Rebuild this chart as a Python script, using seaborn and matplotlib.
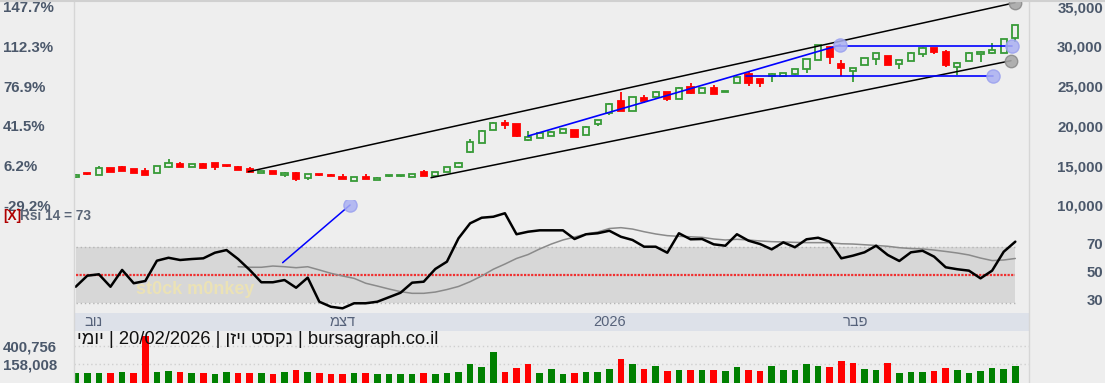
import matplotlib
matplotlib.use('Agg')
import matplotlib.pyplot as plt
import seaborn as sns
import numpy as np
from matplotlib.transforms import ScaledTranslation
from matplotlib.lines import Line2D

sns.set_style('white')
plt.rcParams['font.family'] = ['Liberation Sans', 'DejaVu Sans']

# ---------------- data ----------------
opens = [13500, 13900, 13810, 14650, 14860, 14570, 14310, 14030, 14780, 15230,
         14780, 15230, 15280, 14990, 14780, 14570, 14030, 14280, 13810, 14100,
         13400, 13830, 13850, 13600, 13060, 13600, 13180, 13660, 13700, 13600,
         14230, 13690, 14230, 14780, 16670, 17880, 19480, 20400, 20230, 18180,
         18500, 18720, 19060, 19480, 18850, 20190, 21650, 23170, 21870, 23470,
         23670, 24220, 23380, 24850, 24170, 24730, 24270, 25430, 26490, 25900,
         26310, 26310, 26490, 27120, 28290, 29960, 27750, 26900, 27660, 28380,
         28790, 27790, 28160, 29040, 29760, 29330, 27450, 28200, 29040, 29130,
         29210, 31020]
highs = [13900, 13950, 14940, 14700, 14950, 14620, 14690, 15000, 15790, 15450,
         15230, 15260, 15300, 15100, 14950, 14880, 14350, 14300, 14130, 14190,
         13960, 13950, 13880, 13900, 13620, 13940, 13500, 13800, 13830, 13920,
         14440, 14250, 14790, 15400, 18310, 19420, 20520, 20740, 20260, 19390,
         19090, 19290, 19600, 19500, 19920, 20770, 22900, 24300, 23600, 23840,
         24400, 24250, 24830, 25360, 24760, 25140, 24400, 26220, 26820, 25930,
         26620, 26650, 27150, 28470, 30210, 30000, 28290, 27300, 28530, 29160,
         28820, 28320, 29240, 29870, 29790, 29500, 28080, 29240, 29360, 30390,
         30930, 32720]
lows = [13400, 13830, 13780, 14200, 14330, 14080, 13800, 14000, 14750, 14840,
        14760, 14700, 14440, 14850, 14420, 14130, 14000, 13920, 13560, 13090,
        13180, 13700, 13670, 13250, 13040, 13250, 13160, 13580, 13620, 13580,
        13700, 13670, 14200, 14750, 16640, 17850, 19450, 19560, 18540, 18090,
        18480, 18700, 19040, 18610, 18830, 19980, 21400, 21870, 21840, 22910,
        23640, 23170, 23350, 24070, 24140, 23980, 24200, 25400, 25060, 24930,
        25560, 26280, 26460, 26690, 28260, 27790, 26270, 25560, 27630, 27660,
        27630, 27120, 28130, 28700, 29010, 27450, 26400, 28170, 28080, 29100,
        29180, 30600]
closes = [13750, 13880, 14650, 14230, 14350, 14100, 13810, 14980, 15280, 14860,
          15200, 14730, 14780, 14960, 14440, 14150, 14310, 13940, 14100, 13270,
          13940, 13800, 13690, 13270, 13600, 13270, 13470, 13700, 13740, 13900,
          13720, 14230, 14760, 15360, 18000, 19390, 20320, 20070, 18660, 18630,
          19060, 19260, 19570, 18630, 19890, 20740, 22710, 21900, 23570, 23170,
          24300, 23380, 24800, 24100, 24730, 24010, 24330, 26190, 25450, 25380,
          26490, 26620, 27120, 28440, 30180, 28700, 27320, 27240, 28500, 29130,
          27660, 28290, 29210, 29840, 29330, 27660, 27870, 29210, 29330, 29550,
          30900, 32690]
volumes = [32590, 32590, 32590, 41000, 46000, 41000, 539700, 46000, 67650, 54200,
           41000, 32590, 19100, 46000, 32590, 41000, 32590, 19100, 54200, 77090,
           54200, 32590, 19100, 19100, 32590, 32590, 19100, 19100, 19100, 19100,
           32590, 19100, 32590, 54200, 154000, 121600, 323900, 46000, 108100, 154000,
           41000, 86000, 19100, 41000, 54200, 54200, 90600, 225400, 154000, 90600,
           135100, 67650, 77090, 77090, 77090, 77090, 67650, 121600, 77090, 67650,
           135100, 77090, 77090, 154000, 135100, 121600, 202500, 167400, 90600, 77090,
           175500, 41000, 54200, 54200, 67650, 108100, 77090, 41000, 67650, 108100,
           90600, 135100]
rsi = [41.4, 49.3, 50.3, 41.4, 53.4, 43.9, 45.5, 60.0, 62.1, 60.5,
       61.2, 61.7, 65.7, 67.6, 61.2, 53.4, 44.6, 44.6, 46.2, 40.7,
       47.9, 30.7, 27.1, 26.0, 29.6, 29.6, 30.7, 33.9, 37.1, 44.3,
       45.0, 54.1, 59.3, 76.0, 86.7, 90.7, 91.4, 93.9, 78.9, 80.7,
       81.7, 81.7, 81.7, 75.5, 78.9, 79.6, 81.4, 77.1, 74.8, 70.0,
       70.0, 65.7, 79.6, 75.3, 75.5, 71.7, 70.7, 78.9, 74.3, 71.9,
       68.1, 73.1, 69.6, 75.3, 76.4, 73.6, 61.7, 63.6, 66.0, 70.7,
       64.1, 59.8, 66.0, 67.1, 62.9, 55.3, 53.9, 52.9, 47.4, 52.9,
       66.4, 73.6]
signal_start = 14
rsi_signal = [55.7, 55.3, 55.3, 56.2, 55.7, 55.0, 55.7, 53.4, 51.0, 49.1,
              47.4, 43.9, 41.9, 39.8, 37.9, 36.7, 36.7, 37.6, 39.4, 41.6,
              45.0, 49.1, 53.9, 57.6, 61.6, 64.4, 68.4, 71.9, 74.8, 76.9,
              79.1, 80.5, 83.0, 83.6, 82.6, 80.7, 79.1, 77.9, 77.4, 77.1,
              76.7, 75.5, 74.8, 75.3, 74.8, 74.1, 73.6, 73.4, 73.1, 72.9,
              72.9, 72.9, 72.1, 71.9, 71.4, 70.9, 70.3, 69.3, 68.7, 68.4,
              67.6, 66.6, 65.5, 64.1, 61.9, 60.1, 60.5, 61.6]

price_ticks = [35000, 30000, 25000, 20000, 15000, 10000]
price_labels = ['35,000', '30,000', '25,000', '20,000', '15,000', '10,000']
pct_labels = ['147.7%', '112.3%', '76.9%', '41.5%', '6.2%', '-29.2%']
rsi_ticks = [70, 50, 30]
rsi_labels = ['70', '50', '30']
vol_ticks = [400756, 158008]
vol_labels = ['400,756', '158,008']
month_pos = [1.5, 23.0, 46.0, 67.2]
month_labels = ['נוב', 'דצמ', '2026', 'פבר']
title_parts = ['יומי', '20/02/2026', 'נקסט ויזן', 'bursagraph.co.il']
rsi_title = 'Rsi 14 = 73'

# drawn annotations (index, price)
trend_upper = ([14.88, 80.97], [14226, 35504])
trend_lower = ([30.63, 80.63], [13471, 28201])
blue_rise = ([39.0, 65.9], [18721, 30178])
blue_top = ([65.5, 80.7], [30052, 30052])
blue_low = ([57.8, 79.1], [26241, 26241])
rsi_draw = ([17.84, 23.65], [58.6, 99.8])

# ---------------- style ----------------
W, H = 1105, 383
BG = '#eeeeee'
GREEN = '#379a37'
RED = '#ff0000'
VGREEN = '#008000'
SLATE = '#4b586b'
XL = (-0.147, 82.18)


def vis(s):
    # visual (left-to-right) order for Hebrew text
    if any('\u0590' <= ch <= '\u05ff' for ch in s):
        return s[::-1]
    return s


fig = plt.figure(figsize=(W / 100, H / 100), dpi=100, facecolor=BG)


def box(x0, y0, x1, y1):
    return [x0 / W, 1 - y1 / H, (x1 - x0) / W, (y1 - y0) / H]


ax_p = fig.add_axes(box(74, 0, 1029, 210))
ax_r = fig.add_axes(box(74, 200, 1029, 312))
ax_d = fig.add_axes(box(74, 313, 1029, 331))
ax_v = fig.add_axes(box(74, 331, 1029, 383))
for a in (ax_p, ax_r, ax_v):
    a.patch.set_alpha(0)
ax_d.set_facecolor('#dde1e9')
for a in (ax_p, ax_r, ax_d, ax_v):
    for s in a.spines.values():
        s.set_visible(False)
    a.set_xlim(*XL)
    a.set_xticks([])
    a.tick_params(length=0)

n = len(closes)
x = np.arange(n)
o = np.array(opens, float)
c = np.array(closes, float)
hi = np.array(highs, float)
lo = np.array(lows, float)
up = c >= o
body_lo = np.minimum(o, c)
body_hi = np.maximum(o, c)
body_h = np.maximum(body_hi - body_lo, 130)

# ---- price panel ----
ax_p.set_ylim(9404.5, 35843.5)
cols = [GREEN if u else RED for u in up]
ax_p.vlines(x, lo, body_lo, colors=cols, lw=1.3, zorder=2)
ax_p.vlines(x, body_hi, hi, colors=cols, lw=1.3, zorder=2)
ax_p.bar(x, body_h, bottom=body_lo, width=0.52,
         color=[BG if u else RED for u in up], edgecolor=cols, linewidth=1.3, zorder=3)

for (xs, ys) in (trend_upper, trend_lower):
    ax_p.plot(xs, ys, color='black', lw=1.1, zorder=4)
for (xs, ys) in (blue_rise, blue_top, blue_low):
    ax_p.plot(xs, ys, color='#0000ff', lw=1.2, zorder=4)
ax_p.scatter([trend_upper[0][1], trend_lower[0][1]], [trend_upper[1][1], trend_lower[1][1]],
             s=80, color='#a8a8a8', edgecolor='#8c8c8c', lw=1, zorder=5, alpha=0.9)
ax_p.scatter([blue_rise[0][1], blue_top[0][1], blue_low[0][1]],
             [blue_rise[1][1], blue_top[1][1], blue_low[1][1]],
             s=90, color='#aab0f2', edgecolor='#9aa0ee', lw=1, zorder=5, alpha=0.85)

tfont = dict(fontsize=10.8, fontweight='bold', color=SLATE)
ax_p.set_yticks(price_ticks, labels=pct_labels, ha='left', **tfont)
ax_p.tick_params(axis='y', pad=71 * 0.72, length=0)
ax_p2 = ax_p.twinx()
ax_p2.set_ylim(ax_p.get_ylim())
ax_p2.patch.set_alpha(0)
for s in ax_p2.spines.values():
    s.set_visible(False)
ax_p2.set_yticks(price_ticks, labels=price_labels, ha='right', **tfont)
ax_p2.tick_params(axis='y', pad=74 * 0.72, length=0)

# ---- RSI panel ----
ax_r.set_ylim(23.36, 103.36)
ax_r.fill_between([0, n - 1], 30, 70, color='#d7d7d7', lw=0, zorder=1)
for lvl in (30, 70):
    ax_r.plot([0, n - 1], [lvl, lvl], color='#b5b5b5', lw=1, ls=(0, (1, 2)), zorder=2)
ax_r.plot([0, n - 1], [50, 50], color='#f03030', lw=1.6, ls=(0, (1, 0.6)), zorder=2)
sns.lineplot(x=x[signal_start:], y=rsi_signal, ax=ax_r, color='#8a8a8a', lw=1.1, zorder=3)
sns.lineplot(x=x, y=rsi, ax=ax_r, color='black', lw=1.8, zorder=4)
ax_r.plot(rsi_draw[0], rsi_draw[1], color='#0000ff', lw=1.1, zorder=4)
ax_r.scatter([rsi_draw[0][1]], [rsi_draw[1][1]], s=90, color='#aab0f2',
             edgecolor='#9aa0ee', zorder=5, alpha=0.85)
ax_r.set_xlim(*XL)
ax_r.set_xlabel('')
ax_r.yaxis.tick_right()
ax_r.set_yticks(rsi_ticks, labels=rsi_labels, ha='right', **tfont)
ax_r.tick_params(axis='y', pad=74 * 0.72, length=0)
for t in ax_r.get_yticklabels():
    t.set_transform(t.get_transform() + ScaledTranslation(0, 0.034, fig.dpi_scale_trans))

# ---- date strip ----
ax_d.set_ylim(0, 1)
ax_d.set_yticks([])
for pos, lab in zip(month_pos, month_labels):
    ax_d.text(pos, 0.5, vis(lab), ha='center', va='center', fontsize=10.5, color='#56627a')

# ---- volume panel ----
vlo, vhi = -98200, 603000
ax_v.set_ylim(vlo, vhi)
vol = np.array(volumes, float)
vcols = [VGREEN] + [VGREEN if c[i] >= c[i - 1] else RED for i in range(1, n)]
for v in vol_ticks:
    ax_v.axhline(v, color='#cfcfcf', lw=1, ls=(0, (1, 2)), zorder=1)
ax_v.bar(x, vol - vlo, bottom=vlo, width=0.58, color=vcols, lw=0, zorder=2)
ax_v.set_yticks(vol_ticks, labels=vol_labels, ha='left', **tfont)
ax_v.tick_params(axis='y', pad=71 * 0.72, length=0)

# ---- texts ----
fig.text(77 / W, 1 - 339 / H, ' | '.join(vis(p) for p in title_parts), fontsize=13.2,
         color='#111111', ha='left', va='center')
fig.text(3 / W, 1 - 216 / H, '[X]', fontsize=9.8, fontweight='bold', color='#b00000',
         ha='left', va='center')
fig.text(20 / W, 1 - 216 / H, rsi_title, fontsize=9.8, fontweight='bold', color='#5a6577',
         ha='left', va='center')
ax_r.text(10.3, 39.5, 'st0ck m0nkey', fontsize=13, fontweight='bold', color='#efe4b0',
          ha='center', va='center', alpha=0.85, zorder=2)

# frame lines
for xp in (74, 1029):
    fig.add_artist(Line2D([xp / W, xp / W], [0, 1], color='#d6d6d6', lw=1,
                          transform=fig.transFigure))
fig.add_artist(Line2D([0, 1], [1 - 0.5 / H] * 2, color='#d0d0d0', lw=1.5,
                      transform=fig.transFigure))

fig.savefig('out.png', dpi=100, facecolor=BG)
